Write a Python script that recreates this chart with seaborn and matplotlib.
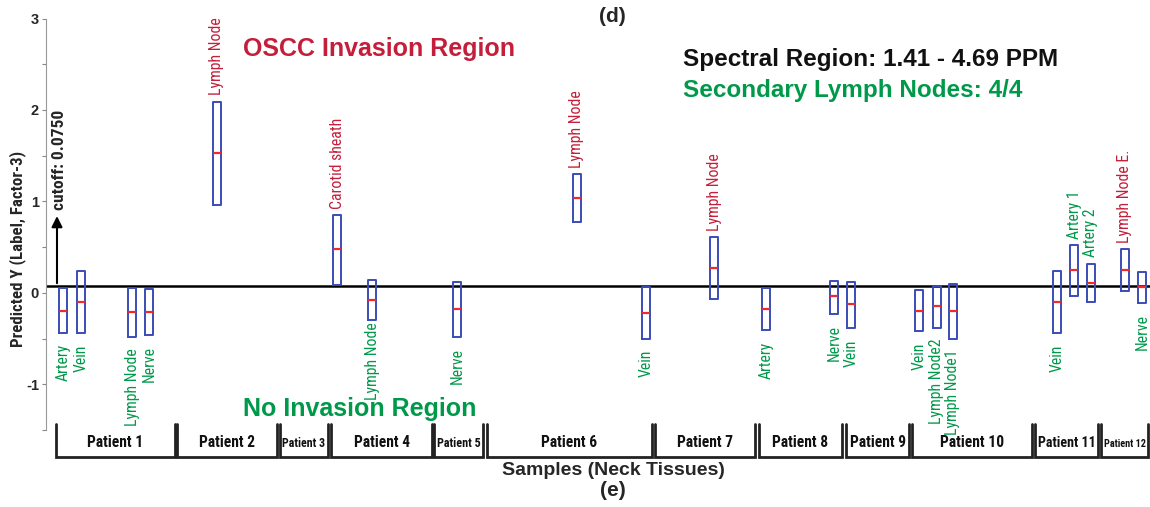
import numpy as np
import pandas as pd
import matplotlib
matplotlib.use("Agg")
import matplotlib.pyplot as plt
import matplotlib.transforms as mtransforms
from matplotlib import font_manager
import seaborn as sns

# ------------------------------------------------------------------ data
sample_names = ["Artery", "Vein", "Lymph Node", "Nerve",            # Patient 1
                "Lymph Node",                                       # Patient 2
                "Carotid sheath", "Lymph Node",                     # Patient 4
                "Nerve",                                            # Patient 5
                "Lymph Node", "Vein",                               # Patient 6
                "Lymph Node",                                       # Patient 7
                "Artery", "Nerve",                                  # Patient 8
                "Vein",                                             # Patient 9
                "Vein", "Lymph Node2", "Lymph Node1",               # Patient 10
                "Vein", "Artery 1", "Artery 2",                     # Patient 11
                "Lymph Node E.", "Nerve"]                           # Patient 12
sample_pos = [1.7, 3.5, 8.6, 10.3, 17.1, 29.1, 32.6, 41.1, 53.1, 60.0, 66.8,
              72.0, 78.8, 80.5, 87.3, 89.1, 90.7, 101.1, 102.8, 104.5, 107.9, 109.6]
y_high = [0.05, 0.24, 0.05, 0.04, 2.09, 0.85, 0.14, 0.12, 1.30, 0.06, 0.61,
          0.05, 0.13, 0.12, 0.03, 0.08, 0.10, 0.24, 0.52, 0.32, 0.48, 0.23]
y_med = [-0.20, -0.10, -0.21, -0.21, 1.53, 0.48, -0.08, -0.18, 1.04, -0.22, 0.27,
         -0.18, -0.04, -0.12, -0.20, -0.14, -0.20, -0.10, 0.25, 0.11, 0.25, 0.06]
y_low = [-0.44, -0.44, -0.48, -0.46, 0.96, 0.09, -0.30, -0.48, 0.78, -0.50, -0.07,
         -0.41, -0.23, -0.39, -0.42, -0.38, -0.50, -0.44, -0.03, -0.10, 0.02, -0.11]
invasion = [0, 0, 0, 0, 1, 1, 0, 0, 1, 0, 1, 0, 0, 0, 0, 0, 0, 0, 0, 0, 1, 0]

patient_names = [f"Patient {i}" for i in range(1, 13)]
patient_start = [1.0, 13.1, 23.4, 28.5, 38.8, 44.1, 60.9, 71.3, 80.0, 86.6, 98.9, 105.5]
patient_end = [12.9, 23.1, 28.2, 38.6, 43.7, 60.6, 70.9, 79.6, 86.3, 98.6, 105.2, 110.2]

cutoff = 0.075
y_ticks = [-1, 0, 1, 2, 3]

# ------------------------------------------------------------------ style
RED = "#c41e3a"
GREEN = "#00994a"
BLUE = "#3a4cb8"
MED_RED = "#ee2a2a"
BOX_W = 0.72
label_above = [bool(v) for v in invasion]
label_above[18] = True   # Artery 1
label_above[19] = True   # Artery 2
label_gap = [8.0] * len(sample_names)   # points below the box
label_gap[6] = 1.5                      # Patient 4 lymph node sits close to its box


def pick(*names):
    avail = {f.name for f in font_manager.fontManager.ttflist}
    for n in names:
        if n in avail:
            return n, True
    return "Liberation Sans", False


NARROW, has_narrow = pick("Liberation Sans Narrow", "Roboto Condensed")
SANS = "Liberation Sans"
nscale = 1.0 if has_narrow else 0.82

sns.set_style("white")
plt.rcParams["font.family"] = [SANS, "DejaVu Sans"]
plt.rcParams["axes.unicode_minus"] = False

W, H = 1150, 507
fig = plt.figure(figsize=(W / 100, H / 100), dpi=100)
ax_left, ax_right, ax_top, ax_bot = 46, 1150, 18.5, 430
ax = fig.add_axes([ax_left / W, 1 - ax_bot / H, (ax_right - ax_left) / W, (ax_bot - ax_top) / H])

# floating boxes: quartiles = low/high, median = med
rows = []
for p, lo, md, hi in zip(sample_pos, y_low, y_med, y_high):
    for v in (lo, lo, md, hi, hi):
        rows.append({"pos": p, "value": v})
df = pd.DataFrame(rows)
min_gap = np.diff(np.sort(sample_pos)).min()
sns.boxplot(data=df, x="pos", y="value", native_scale=True, orient="x",
            width=BOX_W / min_gap, fill=False, color=BLUE, linewidth=1.4,
            whis=0, showcaps=False, showfliers=False,
            medianprops=dict(color=MED_RED, linewidth=1.6), ax=ax)

ax.set_xlim(0, 110.4)
ax.set_ylim(-1.5, 3)
ax.set_xticks([])
ax.set_xlabel("")
ax.set_ylabel("")
ax.set_yticks(y_ticks)
ax.set_yticklabels([str(t) for t in y_ticks], fontweight="bold", fontsize=10.5)
ax.set_yticks(np.arange(-1.5, 3.01, 0.5), minor=True)
ax.tick_params(axis="y", which="both", direction="out", length=3, width=0.8,
               color="#888888", pad=2, left=True)
for s in ["top", "right", "bottom"]:
    ax.spines[s].set_visible(False)
ax.spines["left"].set_color("#999999")
ax.spines["left"].set_linewidth(0.8)

# cutoff line + arrow
ax.axhline(cutoff, color="black", lw=1.8, zorder=1)
ax.annotate("", xy=(1.1, 0.87), xytext=(1.1, cutoff),
            arrowprops=dict(arrowstyle="-|>", color="black", lw=1.5, mutation_scale=16))
ax.text(1.3, 0.91, "cutoff: 0.0750", rotation=90, ha="center", va="bottom",
        fontfamily=NARROW, fontweight="bold", fontsize=12.5 * nscale)

# sample labels
for name, p, lo, hi, inv, up, gap in zip(sample_names, sample_pos, y_low, y_high,
                                         invasion, label_above, label_gap):
    col = RED if inv else GREEN
    if up:
        ax.annotate(name, xy=(p, hi), xytext=(0, 4.5), textcoords="offset points",
                    rotation=90, ha="center", va="bottom", color=col,
                    fontfamily=NARROW, fontsize=11.3 * nscale)
    else:
        ax.annotate(name, xy=(p, lo), xytext=(0, -gap), textcoords="offset points",
                    rotation=90, ha="center", va="top", color=col,
                    fontfamily=NARROW, fontsize=11.3 * nscale)

# region texts
ax.text(19.7, 2.59, "OSCC Invasion Region", color=RED, fontsize=18, fontweight="bold",
        ha="left", va="baseline")
ax.text(19.7, -1.345, "No Invasion Region", color=GREEN, fontsize=18, fontweight="bold",
        ha="left", va="baseline")
ax.text(63.7, 2.48, "Spectral Region: 1.41 - 4.69 PPM", color="#111111", fontsize=17.5,
        fontweight="bold", ha="left", va="baseline")
ax.text(63.7, 2.14, "Secondary Lymph Nodes: 4/4", color=GREEN, fontsize=17.5,
        fontweight="bold", ha="left", va="baseline")

# patient brackets
trans = mtransforms.blended_transform_factory(ax.transData, ax.transAxes)
yb_top = (ax_bot - 424) / (ax_bot - ax_top)
yb_bot = (ax_bot - 457) / (ax_bot - ax_top)
y_lab = (ax_bot - 447) / (ax_bot - ax_top)
fig.canvas.draw()
renderer = fig.canvas.get_renderer()
px_per_unit = (ax_right - ax_left) / 110.4
for name, a, b in zip(patient_names, patient_start, patient_end):
    ax.plot([a, a, b, b], [yb_top, yb_bot, yb_bot, yb_top], color="#222222", lw=2,
            transform=trans, clip_on=False, solid_joinstyle="miter")
    t = ax.text((a + b) / 2, y_lab, name, transform=trans, ha="center", va="baseline",
                fontfamily=NARROW, fontweight="bold", fontsize=11.2 * nscale, color="#111111")
    wpx = t.get_window_extent(renderer).width
    avail = (b - a) * px_per_unit - 5
    if wpx > avail:
        t.set_fontsize(11.2 * nscale * avail / wpx)

# figure-level texts
fig.text(18 / W, 1 - 249 / H, "Predicted Y (Label, Factor-3)", rotation=90, ha="center",
         va="center", fontfamily=NARROW, fontweight="bold", fontsize=12.2 * nscale)
fig.text(613 / W, 1 - 475 / H, "Samples (Neck Tissues)", ha="center", va="baseline",
         fontsize=14, fontweight="bold")
fig.text(612 / W, 1 - 17 / H, "(d)", ha="center", va="center", fontsize=15, fontweight="bold")
fig.text(613 / W, 1 - 491 / H, "(e)", ha="center", va="center", fontsize=15, fontweight="bold")

fig.savefig("out.png", dpi=100)
